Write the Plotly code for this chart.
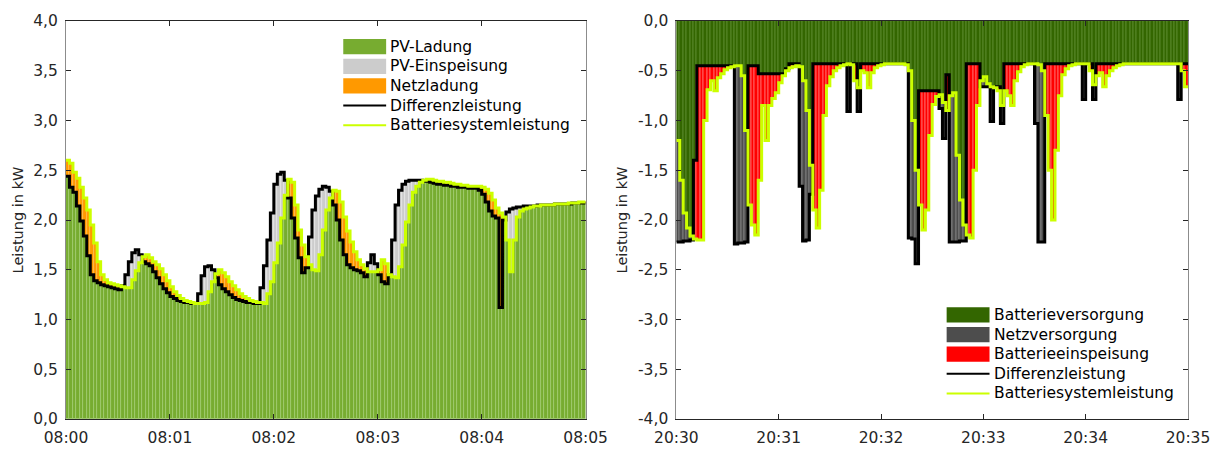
import datetime as dt
import plotly.graph_objects as go

STEP_S = 2  # logging interval of the power values in seconds

# ---- 08:00-08:05, charging window (kW) ----
diff_morning = [
    2.44, 2.33, 2.28, 2.14, 1.99, 1.84, 1.64, 1.45, 1.39, 1.37,
    1.35, 1.34, 1.33, 1.32, 1.31, 1.30, 1.34, 1.45, 1.58, 1.67,
    1.70, 1.65, 1.58, 1.56, 1.54, 1.48, 1.42, 1.36, 1.31, 1.27,
    1.23, 1.21, 1.19, 1.18, 1.17, 1.17, 1.16, 1.16, 1.26, 1.44,
    1.53, 1.54, 1.50, 1.42, 1.35, 1.31, 1.28, 1.25, 1.22, 1.20,
    1.19, 1.18, 1.17, 1.17, 1.16, 1.16, 1.32, 1.54, 1.80, 2.07,
    2.36, 2.46, 2.48, 2.40, 2.22, 2.02, 1.82, 1.62, 1.47, 1.52,
    1.83, 2.10, 2.24, 2.31, 2.34, 2.33, 2.29, 2.15, 2.00, 1.80,
    1.65, 1.55, 1.52, 1.50, 1.49, 1.47, 1.43, 1.57, 1.65, 1.56,
    1.45, 1.38, 1.36, 1.45, 1.80, 2.15, 2.30, 2.36, 2.39, 2.40,
    2.40, 2.40, 2.40, 2.39, 2.39, 2.38, 2.37, 2.36, 2.36, 2.35,
    2.35, 2.34, 2.34, 2.33, 2.33, 2.33, 2.32, 2.32, 2.32, 2.30,
    2.26, 2.18, 2.09, 2.04, 2.02, 1.12, 2.00, 2.08, 2.11, 2.12,
    2.13, 2.13, 2.14, 2.14, 2.14, 2.14, 2.15, 2.15, 2.15, 2.15,
    2.15, 2.16, 2.16, 2.16, 2.16, 2.16, 2.17, 2.17, 2.17, 2.17,
]
batt_morning = [
    2.60, 2.57, 2.48, 2.42, 2.33, 2.22, 2.10, 1.95, 1.77, 1.58,
    1.45, 1.40, 1.37, 1.36, 1.35, 1.34, 1.33, 1.32, 1.32, 1.40,
    1.49, 1.57, 1.63, 1.65, 1.62, 1.58, 1.55, 1.51, 1.45, 1.39,
    1.33, 1.28, 1.24, 1.21, 1.19, 1.18, 1.17, 1.16, 1.16, 1.16,
    1.17, 1.28, 1.38, 1.46, 1.50, 1.47, 1.43, 1.38, 1.34, 1.30,
    1.26, 1.23, 1.21, 1.19, 1.18, 1.17, 1.17, 1.16, 1.26, 1.38,
    1.57, 1.77, 2.02, 2.25, 2.41, 2.38, 2.15, 1.90, 1.75, 1.63,
    1.55, 1.50, 1.49, 1.65, 1.90, 2.10, 2.22, 2.30, 2.29, 2.18,
    2.03, 1.89, 1.78, 1.68, 1.60, 1.55, 1.51, 1.48, 1.48, 1.48,
    1.50, 1.60, 1.56, 1.45, 1.43, 1.42, 1.53, 1.75, 1.98, 2.15,
    2.28, 2.34, 2.38, 2.40, 2.41, 2.41, 2.40, 2.39, 2.39, 2.38,
    2.38, 2.37, 2.36, 2.36, 2.35, 2.35, 2.34, 2.34, 2.34, 2.34,
    2.33, 2.31, 2.27, 2.20, 2.12, 2.07, 2.03, 1.80, 1.48, 1.80,
    2.03, 2.09, 2.11, 2.12, 2.13, 2.14, 2.14, 2.15, 2.15, 2.15,
    2.15, 2.16, 2.16, 2.16, 2.16, 2.17, 2.17, 2.17, 2.18, 2.18,
]

# ---- 20:30-20:35, discharging window (kW) ----
diff_evening = [
    -2.22, -2.22, -2.21, -2.21, -2.20, -1.40, -0.45, -0.45, -0.45, -0.45,
    -0.45, -0.45, -0.45, -0.45, -0.45, -0.45, -0.45, -2.24, -2.23, -2.23,
    -2.22, -0.45, -0.45, -0.45, -0.53, -0.53, -0.53, -0.53, -0.53, -0.53,
    -0.53, -0.53, -0.48, -0.43, -0.43, -0.43, -1.66, -2.21, -2.20, -1.74,
    -0.43, -0.43, -0.43, -0.43, -0.43, -0.43, -0.43, -0.43, -0.43, -0.43,
    -0.91, -0.43, -0.43, -0.91, -0.43, -0.43, -0.43, -0.43, -0.43, -0.43,
    -0.43, -0.43, -0.43, -0.43, -0.43, -0.43, -0.43, -0.43, -2.18, -2.19,
    -2.44, -0.70, -0.70, -0.70, -0.70, -0.70, -0.70, -0.88, -1.18, -0.54,
    -2.22, -2.22, -2.22, -2.21, -2.21, -0.43, -0.43, -0.43, -0.43, -0.66,
    -0.66, -0.66, -1.01, -0.66, -0.66, -1.03, -0.43, -0.43, -0.43, -0.43,
    -0.43, -0.43, -0.43, -0.43, -0.43, -1.03, -2.22, -2.22, -0.43, -0.43,
    -0.43, -0.43, -0.43, -0.43, -0.43, -0.43, -0.43, -0.43, -0.43, -0.79,
    -0.43, -0.43, -0.79, -0.43, -0.43, -0.43, -0.43, -0.43, -0.43, -0.43,
    -0.43, -0.43, -0.43, -0.43, -0.43, -0.43, -0.43, -0.43, -0.43, -0.43,
    -0.43, -0.43, -0.43, -0.43, -0.43, -0.43, -0.43, -0.79, -0.43, -0.43,
]
batt_evening = [
    -1.20, -1.60, -1.93, -2.08, -2.16, -2.19, -2.20, -2.20, -1.00, -0.69,
    -0.60, -0.70, -0.57, -0.53, -0.49, -0.47, -0.46, -0.45, -0.45, -0.55,
    -1.10, -1.85, -2.05, -2.15, -1.60, -0.85, -1.20, -0.85, -0.78, -0.72,
    -0.62, -0.55, -0.50, -0.47, -0.46, -0.45, -0.46, -0.60, -0.90, -1.45,
    -1.90, -2.08, -1.70, -0.95, -0.65, -0.56, -0.50, -0.47, -0.45, -0.44,
    -0.43, -0.44, -0.60, -0.67, -0.50, -0.52, -0.67, -0.52, -0.47, -0.45,
    -0.44, -0.43, -0.43, -0.43, -0.43, -0.43, -0.43, -0.44, -0.50, -1.00,
    -1.50, -1.85, -2.10, -1.90, -1.15, -0.84, -0.76, -0.74, -0.82, -0.90,
    -0.75, -0.72, -1.35, -1.80, -2.05, -2.15, -2.18, -1.50, -0.85, -0.60,
    -0.56, -0.63, -0.66, -0.67, -0.70, -0.85, -0.70, -0.75, -0.85, -0.60,
    -0.51, -0.46, -0.44, -0.43, -0.43, -0.43, -0.44, -0.50, -0.95, -1.50,
    -2.00, -1.30, -0.75, -0.54, -0.48, -0.45, -0.44, -0.43, -0.43, -0.43,
    -0.43, -0.50, -0.64, -0.55, -0.52, -0.66, -0.55, -0.50, -0.47, -0.45,
    -0.44, -0.43, -0.43, -0.43, -0.43, -0.43, -0.43, -0.43, -0.43, -0.43,
    -0.43, -0.43, -0.43, -0.43, -0.43, -0.43, -0.43, -0.43, -0.50, -0.66,
]

# axis ticks and labels (decimal comma)
y_ticks_morning = [0.0, 0.5, 1.0, 1.5, 2.0, 2.5, 3.0, 3.5, 4.0]
y_labels_morning = ["0,0", "0,5", "1,0", "1,5", "2,0", "2,5", "3,0", "3,5", "4,0"]
y_ticks_evening = [-4.0, -3.5, -3.0, -2.5, -2.0, -1.5, -1.0, -0.5, 0.0]
y_labels_evening = ["-4,0", "-3,5", "-3,0", "-2,5", "-2,0", "-1,5", "-1,0", "-0,5", "0,0"]
y_title = "Leistung in kW"

names_morning = ["PV-Ladung", "PV-Einspeisung", "Netzladung",
                 "Differenzleistung", "Batteriesystemleistung"]
names_evening = ["Batterieversorgung", "Netzversorgung", "Batterieeinspeisung",
                 "Differenzleistung", "Batteriesystemleistung"]

START_MORNING = dt.datetime(2021, 6, 1, 8, 0, 0)
START_EVENING = dt.datetime(2021, 6, 1, 20, 30, 0)

COL = {
    "pv": "#77AC30", "pv_edge": "#A3CC72",
    "feed": "#CCCCCC", "feed_edge": "#E6E6E6",
    "grid_charge": "#FF9900", "grid_charge_edge": "#FFBB55",
    "supply": "#336600", "supply_edge": "rgba(150,190,110,0.45)",
    "grid_supply": "#4D4D4D", "grid_supply_edge": "#8C8C8C",
    "batt_feed": "#FF0000", "batt_feed_edge": "#FF8080",
    "diff": "#000000", "batt": "#CCFF00",
}
FONT = "DejaVu Sans, Verdana, sans-serif"
TEXT = "#262626"

# plot area geometry in px
W, H = 1222, 459
ML, MR, MT, MB = 66, 31, 17, 24
PW = W - ML - MR
PH = H - MT - MB
LEFT_W = 521
RIGHT_X0 = 612


def stamps(start, n):
    return [start + dt.timedelta(seconds=STEP_S * i) for i in range(n)]


def bar(x, h, base, colour, edge, xa, ya):
    return go.Bar(
        x=x, y=h, base=base, width=STEP_S * 1000, offset=0,
        marker=dict(color=colour, line=dict(color=edge, width=0.7)),
        xaxis=xa, yaxis=ya, showlegend=False, hoverinfo="skip",
    )


def step_line(start, values, colour, xa, ya):
    return go.Scatter(
        x=stamps(start, len(values) + 1), y=values + values[-1:],
        mode="lines", line=dict(color=colour, width=3, shape="hv"),
        xaxis=xa, yaxis=ya, showlegend=False, hoverinfo="skip",
    )


fig = go.Figure()

# --- morning: PV surplus split into battery charge, feed-in and grid charge
t_m = stamps(START_MORNING, len(diff_morning))
pv_charge = [min(d, b) for d, b in zip(diff_morning, batt_morning)]
pv_feed = [d - b if d > b else None for d, b in zip(diff_morning, batt_morning)]
grid_charge = [b - d if b > d else None for d, b in zip(diff_morning, batt_morning)]

fig.add_trace(bar(t_m, pv_charge, None, COL["pv"], COL["pv_edge"], "x", "y"))
fig.add_trace(bar(t_m, pv_feed, pv_charge, COL["feed"], COL["feed_edge"], "x", "y"))
fig.add_trace(bar(t_m, grid_charge, pv_charge, COL["grid_charge"], COL["grid_charge_edge"], "x", "y"))
fig.add_trace(step_line(START_MORNING, diff_morning, COL["diff"], "x", "y"))
fig.add_trace(step_line(START_MORNING, batt_morning, COL["batt"], "x", "y"))

# --- evening: load split into battery supply, grid supply and battery feed-in
t_e = stamps(START_EVENING, len(diff_evening))
batt_supply = [max(d, b) for d, b in zip(diff_evening, batt_evening)]
grid_supply = [d - b if d < b else None for d, b in zip(diff_evening, batt_evening)]
batt_feed = [b - d if b < d else None for d, b in zip(diff_evening, batt_evening)]

fig.add_trace(bar(t_e, batt_supply, None, COL["supply"], COL["supply_edge"], "x2", "y2"))
fig.add_trace(bar(t_e, grid_supply, batt_supply, COL["grid_supply"], COL["grid_supply_edge"], "x2", "y2"))
fig.add_trace(bar(t_e, batt_feed, batt_supply, COL["batt_feed"], COL["batt_feed_edge"], "x2", "y2"))
fig.add_trace(step_line(START_EVENING, diff_evening, COL["diff"], "x2", "y2"))
fig.add_trace(step_line(START_EVENING, batt_evening, COL["batt"], "x2", "y2"))


def x_axis(domain, start, anchor):
    return dict(
        domain=domain, anchor=anchor, type="date",
        range=[start, start + dt.timedelta(minutes=5)],
        tickformat="%H:%M", dtick=60000, tick0=start,
        ticks="inside", ticklen=5, tickcolor=TEXT,
        showline=True, linecolor=TEXT, linewidth=1, mirror="ticks",
        showgrid=False, zeroline=False, ticklabelstandoff=4,
        tickfont=dict(family=FONT, size=15.5, color=TEXT),
    )


def y_axis(rng, vals, labels, anchor):
    return dict(
        anchor=anchor, range=rng, tickvals=vals, ticktext=labels,
        ticks="inside", ticklen=5, tickcolor=TEXT,
        showline=True, linecolor="#8C8C8C", linewidth=1, mirror="ticks",
        showgrid=False, zeroline=False, ticklabelstandoff=4,
        tickfont=dict(family=FONT, size=15.5, color=TEXT),
        title=dict(text=y_title, standoff=6, font=dict(family=FONT, size=14.5, color=TEXT)),
    )


fig.update_layout(
    width=W, height=H, margin=dict(l=ML, r=MR, t=MT, b=MB),
    plot_bgcolor="white", paper_bgcolor="white",
    barmode="overlay", bargap=0, showlegend=False,
    font=dict(family=FONT, size=15, color=TEXT),
    xaxis=x_axis([0, LEFT_W / PW], START_MORNING, "y"),
    yaxis=y_axis([0, 4], y_ticks_morning, y_labels_morning, "x"),
    xaxis2=x_axis([RIGHT_X0 / PW, 1], START_EVENING, "y2"),
    yaxis2=y_axis([-4, 0], y_ticks_evening, y_labels_evening, "x2"),
)

# --- keys drawn inside each panel
ROW_PX, SW_W, SW_H = 20.6, 43, 16


def draw_key(xref, yref, pw, left_px, top_px, entries):
    for i, (label, colour, kind) in enumerate(entries):
        yc = 1 - (top_px + i * ROW_PX) / PH
        x0 = left_px / pw
        x1 = (left_px + SW_W) / pw
        if kind == "patch":
            fig.add_shape(type="rect", xref=xref, yref=yref, x0=x0, x1=x1,
                          y0=yc - SW_H / 2 / PH, y1=yc + SW_H / 2 / PH,
                          fillcolor=colour, line_width=0)
        else:
            fig.add_shape(type="line", xref=xref, yref=yref, x0=x0, x1=x1,
                          y0=yc, y1=yc, line=dict(color=colour, width=2))
        fig.add_annotation(xref=xref, yref=yref, x=(left_px + SW_W + 2) / pw, y=yc,
                           text=label, showarrow=False, xanchor="left", yanchor="middle",
                           font=dict(family=FONT, size=15.5, color="#000000"))


kinds = ["patch", "patch", "patch", "line", "line"]
draw_key("x domain", "y domain", LEFT_W, 278, 27,
         list(zip(names_morning,
                  [COL["pv"], COL["feed"], COL["grid_charge"], COL["diff"], COL["batt"]],
                  kinds)))
draw_key("x2 domain", "y2 domain", PW - RIGHT_X0, 271, 308.7,
         list(zip(names_evening,
                  [COL["supply"], COL["grid_supply"], COL["batt_feed"], COL["diff"], COL["batt"]],
                  kinds)))

fig.write_html("out.html")
